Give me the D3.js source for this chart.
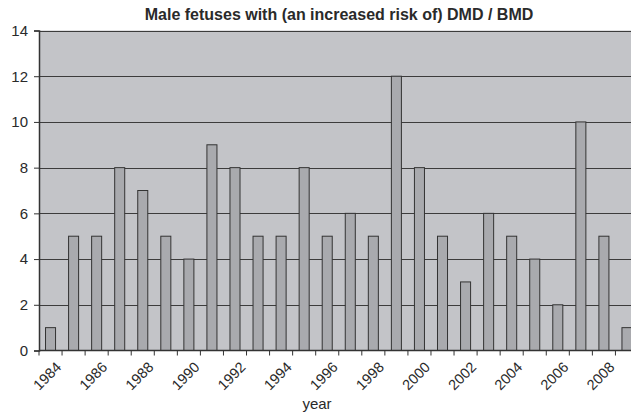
<!DOCTYPE html>
<html>
<head>
<meta charset="utf-8">
<script src="https://cdn.jsdelivr.net/npm/d3@7"></script>
<style>
  body { margin: 0; background: #fff; }
  text { font-family: "Liberation Sans", Arial, sans-serif; fill: #2a2a2a; }
</style>
</head>
<body>
<div id="chart"></div>
<script>
var years = ['1984','1985','1986','1987','1988','1989','1990','1991','1992','1993','1994','1995','1996',
  '1997','1998','1999','2000','2001','2002','2003','2004','2005','2006','2007','2008','2009'];
var counts = [1,5,5,8,7,5,4,9,8,5,5,8,5,6,5,12,8,5,3,6,5,4,2,10,5,1];
var yTicks = [0,2,4,6,8,10,12,14];
var title = 'Male fetuses with (an increased risk of) DMD / BMD';

var W = 631, H = 415;
var plotL = 39, plotR = 638.5, plotT = 30.5, plotB = 350.5;

var svg = d3.select('#chart').append('svg')
  .attr('width', W)
  .attr('height', H);

var x = d3.scaleBand()
  .domain(years)
  .range([plotL, plotR])
  .paddingInner(0.565)
  .paddingOuter(0.2825);

var y = d3.scaleLinear()
  .domain([0, 14])
  .range([plotB, plotT]);

// plot background
svg.append('rect')
  .attr('x', plotL).attr('y', plotT)
  .attr('width', plotR - plotL).attr('height', plotB - plotT)
  .attr('fill', '#c3c4c8');

// grid
svg.append('g').selectAll('line')
  .data(yTicks.filter(function(d) { return d > 0; }))
  .enter().append('line')
  .attr('x1', plotL).attr('x2', plotR)
  .attr('y1', function(d) { return Math.round(y(d)) + 0.5; })
  .attr('y2', function(d) { return Math.round(y(d)) + 0.5; })
  .attr('stroke', '#3c3c3c')
  .attr('stroke-width', 1);

// bars
svg.append('g').selectAll('rect')
  .data(counts)
  .enter().append('rect')
  .attr('x', function(d, i) { return x(years[i]); })
  .attr('y', function(d) { return y(d); })
  .attr('width', x.bandwidth())
  .attr('height', function(d) { return plotB - y(d); })
  .attr('fill', '#a9aaae')
  .attr('stroke', '#333')
  .attr('stroke-width', 1);

// y axis
var yAxis = svg.append('g')
  .attr('transform', 'translate(' + plotL + ',0)')
  .call(d3.axisLeft(y).tickValues(yTicks).tickSize(5).tickPadding(6));
yAxis.select('.domain').attr('stroke', '#333').attr('stroke-width', 1.5);
yAxis.selectAll('.tick line').attr('stroke', '#333');
yAxis.selectAll('text').style('font-size', '15px').attr('fill', '#2a2a2a');

// x axis: tick marks at category boundaries
var xg = svg.append('g');
xg.append('line')
  .attr('x1', plotL).attr('x2', plotR)
  .attr('y1', plotB).attr('y2', plotB)
  .attr('stroke', '#333').attr('stroke-width', 1.5);
xg.selectAll('line.tk')
  .data(years)
  .enter().append('line')
  .attr('class', 'tk')
  .attr('x1', function(d) { return x(d) - x.step() * x.paddingInner() / 2; })
  .attr('x2', function(d) { return x(d) - x.step() * x.paddingInner() / 2; })
  .attr('y1', plotB).attr('y2', plotB + 5)
  .attr('stroke', '#333');

xg.selectAll('text')
  .data(years.filter(function(d, i) { return i % 2 === 0; }))
  .enter().append('text')
  .attr('transform', function(d) {
    return 'translate(' + (x(d) + x.bandwidth() / 2 + 8) + ',' + (plotB + 14) + ') rotate(-45)';
  })
  .attr('text-anchor', 'end')
  .attr('dy', '0.35em')
  .style('font-size', '14.5px')
  .text(function(d) { return d; });

svg.append('text')
  .attr('x', 317).attr('y', 409)
  .attr('text-anchor', 'middle')
  .style('font-size', '15px')
  .text('year');

svg.append('text')
  .attr('x', 339).attr('y', 20)
  .attr('text-anchor', 'middle')
  .style('font-size', '16px')
  .style('font-weight', 'bold')
  .text(title);
</script>
</body>
</html>
